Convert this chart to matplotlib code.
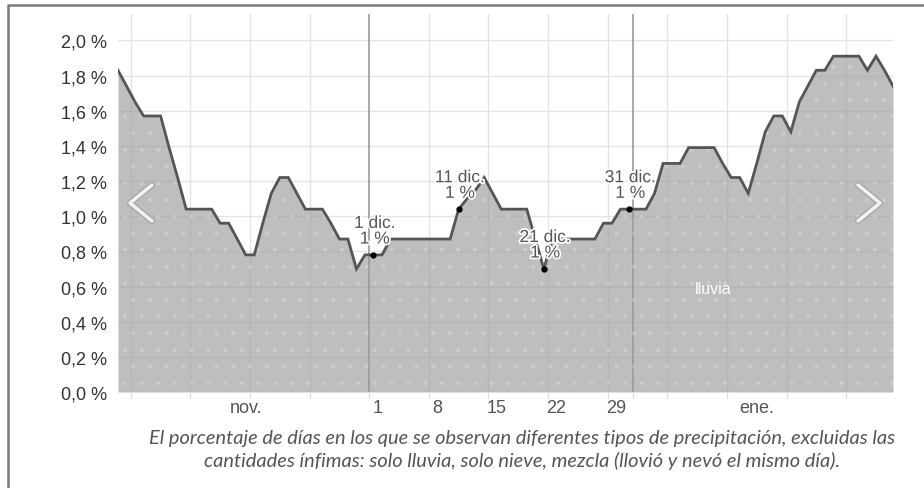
import numpy as np
import matplotlib
matplotlib.use("Agg")
import matplotlib.pyplot as plt
import matplotlib.patheffects as pe
from matplotlib.lines import Line2D

# daily share of days with rain only (%), 1 Nov -> 31 Jan
rain_pct = [
    1.83, 1.74, 1.65, 1.57, 1.57, 1.57, 1.39, 1.22, 1.04, 1.04,
    1.04, 1.04, 0.96, 0.96, 0.87, 0.78, 0.78, 0.96, 1.13, 1.22,
    1.22, 1.13, 1.04, 1.04, 1.04, 0.96, 0.87, 0.87, 0.70, 0.78,
    0.78, 0.78, 0.87, 0.87, 0.87, 0.87, 0.87, 0.87, 0.87, 0.87,
    1.04, 1.10, 1.15, 1.22, 1.13, 1.04, 1.04, 1.04, 1.04, 0.87,
    0.70, 0.87, 0.87, 0.87, 0.87, 0.87, 0.87, 0.96, 0.96, 1.04,
    1.04, 1.04, 1.04, 1.13, 1.30, 1.30, 1.30, 1.39, 1.39, 1.39,
    1.39, 1.30, 1.22, 1.22, 1.13, 1.30, 1.48, 1.57, 1.57, 1.48,
    1.65, 1.74, 1.83, 1.83, 1.91, 1.91, 1.91, 1.91, 1.83, 1.91,
    1.83, 1.74,
]
first_day = -30  # 1 Nov, counted in days from 1 Dec

# highlighted points (index into rain_pct) and their labels
marked_idx = [30, 40, 50, 60]
marked_dates = ["1 dic.", "11 dic.", "21 dic.", "31 dic."]
marked_values = ["1 %", "1 %", "1 %", "1 %"]

week_lines = [-28, -21, -14, -7, 7, 14, 21, 28, 35, 42, 49, 56]
month_lines = [0, 31]
day_ticks = [0, 7, 14, 21, 28]
day_labels = ["1", "8", "15", "22", "29"]
month_ticks = [-15, 45]
month_labels = ["nov.", "ene."]
y_ticks = [0.0, 0.2, 0.4, 0.6, 0.8, 1.0, 1.2, 1.4, 1.6, 1.8, 2.0]

series_name = "lluvia"
caption = ("El porcentaje de días en los que se observan diferentes tipos de precipitación, excluidas las\n"
           "cantidades ínfimas: solo lluvia, solo nieve, mezcla (llovió y nevó el mismo día).")


def main() -> None:
    plt.rcParams['font.family'] = ['Liberation Sans', 'DejaVu Sans']
    plt.rcParams['hatch.linewidth'] = 0.5
    W, H = 924, 489
    fig = plt.figure(figsize=(W / 100, H / 100), dpi=100)
    ax = fig.add_axes([118 / W, 1 - 393 / H, (893 - 118) / W, (393 - 15) / H])

    x = np.arange(len(rain_pct)) + first_day + 0.5
    y = np.array(rain_pct)

    # grid first, the translucent area lets it show through
    for v in y_ticks:
        ax.axhline(v, color='#e4e4e4', lw=1.0, zorder=0)
    for d in week_lines:
        ax.axvline(d, color='#e4e4e4', lw=1.0, zorder=0)
    for d in month_lines:
        ax.axvline(d, color='#9a9a9a', lw=1.2, zorder=0)

    ax.fill_between(x, 0, y, color='#9c9c9c', alpha=0.65, lw=0, zorder=1)
    # faint dotted texture of the area
    ax.fill_between(x, 0, y, facecolor='none', edgecolor=(1, 1, 1, 0.18), hatch='.', lw=0, zorder=2)
    ax.plot(x, y, color='#555555', lw=2.0, solid_joinstyle='miter', zorder=3)

    halo = [pe.withStroke(linewidth=2.5, foreground='white')]
    for i, dl, vl in zip(marked_idx, marked_dates, marked_values):
        ax.plot(x[i], y[i], 'o', color='black', ms=3.5, zorder=4)
        ax.annotate(f"{dl}\n{vl}", (x[i], y[i]), xytext=(1, 6), textcoords='offset points',
                    ha='center', va='bottom', fontsize=12.5, color='#555555',
                    linespacing=1.05, path_effects=halo, zorder=5)

    ax.text(40.4, 0.59, series_name, color='white', fontsize=11.5, ha='center', va='center', zorder=5)

    ax.set_xlim(first_day + 0.5, first_day + len(rain_pct) - 0.5)
    ax.set_ylim(0, 2.15)
    ax.set_yticks(y_ticks)
    ax.set_yticklabels([f"{v:.1f}".replace('.', ',') + " %" for v in y_ticks])
    ax.set_xticks([d + 1 for d in day_ticks] + [m + 0.5 for m in month_ticks])
    ax.set_xticklabels(day_labels + month_labels)
    ax.set_xticks(week_lines + month_lines, minor=True)
    ax.tick_params(axis='both', length=0, labelsize=13, colors='#333333')
    ax.tick_params(axis='x', which='minor', length=4, width=1, color='#dddddd')
    ax.tick_params(axis='y', pad=8)
    ax.tick_params(axis='x', pad=5, labelcolor='#555555')
    for s in ax.spines.values():
        s.set_visible(False)

    # carousel arrows
    chev = [pe.withStroke(linewidth=4.5, foreground='#a8a8a8')]
    for xs in ([152, 130, 152], [858, 880, 858]):
        fig.add_artist(Line2D([v / W for v in xs], [1 - 186 / H, 1 - 204 / H, 1 - 222 / H],
                              color='#f2f2f2', lw=2.5, solid_capstyle='round',
                              path_effects=chev))

    # outer frame (left and top only)
    fig.add_artist(Line2D([8 / W, 8 / W, 1], [0, 1 - 6 / H, 1 - 6 / H], color='#7a7a7a', lw=1.8))

    fig.text(522 / W, 1 - 450 / H, caption, ha='center', va='center', fontsize=14.4,
             style='italic', color='#555555', family='Lato', linespacing=1.28)

    fig.savefig("out.png", dpi=100)


if __name__ == "__main__":
    main()
